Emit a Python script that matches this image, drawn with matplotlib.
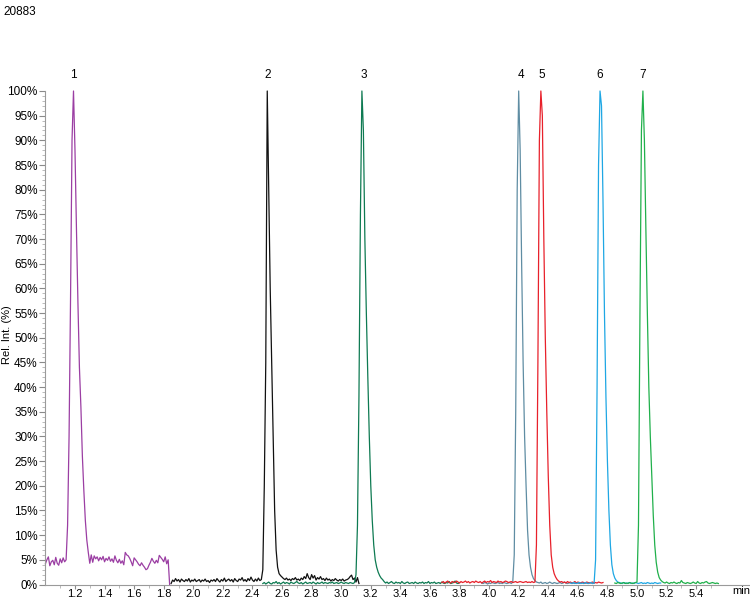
import numpy as np
import matplotlib
matplotlib.use("Agg")
import matplotlib.pyplot as plt
from matplotlib.ticker import MultipleLocator, FixedLocator, FuncFormatter

plt.rcParams['font.family'] = ['Liberation Sans', 'DejaVu Sans']

# ---------------- data ----------------
title_text = "20883"
peak_labels = ["1", "2", "3", "4", "5", "6", "7"]
peak_times = [1.19, 2.505, 3.155, 4.215, 4.355, 4.75, 5.04]
trace_colors = ["#9b3ea3", "#111111", "#0e7a52", "#5f8da3", "#e8212b", "#1ea7e4", "#20b04b"]
x_major_ticks = [1.2, 1.4, 1.6, 1.8, 2.0, 2.2, 2.4, 2.6, 2.8, 3.0, 3.2, 3.4, 3.6,
                 3.8, 4.0, 4.2, 4.4, 4.6, 4.8, 5.0, 5.2, 5.4]

# each trace: start time, sample step (min), intensities (%)
t1_start, t1_step = 1.00, 0.01
y1 = [4.2, 5.0, 5.6, 3.8, 4.6, 4.9, 4.0, 5.5, 4.3, 3.9, 5.2, 4.4, 5.4, 4.6, 5.0,
      12, 30, 58, 90, 100, 88, 72, 57, 44, 36, 26, 19, 13, 9, 6.5, 4.3,
      6.0, 4.5, 5.8, 5.2, 5.6, 4.8, 5.5, 5.0, 5.7, 4.6, 5.3, 4.9, 5.6, 4.7, 5.2,
      4.5, 5.8, 4.9, 4.4, 5.1, 4.3, 4.8, 4.0, 6.5, 6.0, 5.8, 5.3, 4.6, 3.8, 5.4,
      5.0, 4.6, 4.1, 3.8, 4.4, 3.9, 3.5, 3.0, 3.2, 3.9, 4.5, 5.3, 4.7, 4.3, 4.9,
      4.4, 5.9, 5.5, 5.1, 4.6, 5.6, 4.2, 5.0, 0.0]

t2_start, t2_step = 1.85, 0.01
y2 = [0.2, 0.9, 0.6, 1.2, 0.7, 1.0, 0.5, 1.1, 0.8, 0.6, 1.0, 0.7, 1.2, 0.5, 0.9,
      0.7, 1.1, 0.6, 0.8, 1.0, 0.5, 0.9, 0.7, 1.1, 0.6, 0.8, 0.4, 0.9, 0.7, 1.0,
      0.6, 1.2, 0.8, 0.5, 1.0, 0.7, 1.3, 0.6, 0.9, 1.1, 0.7, 1.0, 0.5, 1.2, 0.8,
      0.6, 1.1, 0.9, 1.4, 0.7, 1.0, 0.6, 1.2, 0.8, 1.5, 0.9, 0.6, 1.1, 0.7, 1.3,
      0.8, 1.0,
      3.0, 20, 45, 100, 80, 60, 45, 30, 15, 7, 3.5, 2.2,
      1.8, 1.5, 1.2, 1.0, 1.3, 0.9, 1.1, 0.8, 1.2, 1.0, 1.4, 0.9, 1.1, 0.8, 1.3,
      1.0, 1.6, 1.2, 2.2, 1.4, 1.0, 2.0, 1.3, 1.8, 0.9, 1.4, 1.1, 1.6, 1.0, 1.2,
      0.8, 1.3, 0.9, 1.1, 0.7, 1.0, 0.8, 1.2, 0.9, 0.7, 1.0, 0.8, 1.1, 0.7, 0.9,
      1.0, 1.2, 1.6, 1.9, 1.0, 1.3, 0.5, 1.4, 0.2]

t3_start, t3_step = 2.47, 0.01
y3 = [0.2, 0.4, 0.1, 0.3, 0.5, 0.2, 0.1, 0.4, 0.3, 0.6, 0.2, 0.4, 0.1, 0.3, 0.5,
      0.2, 0.4, 0.3, 0.1, 0.5, 0.3, 0.2, 0.4, 0.6, 0.3, 0.2, 0.4, 0.1, 0.3, 0.5,
      0.2, 0.3, 0.4, 0.2, 0.5, 0.3, 0.1, 0.4, 0.2, 0.3, 0.5, 0.2, 0.4, 0.3, 0.2,
      0.4, 0.3, 0.5, 0.2, 0.3, 0.4, 0.2, 0.3, 0.5, 0.3, 0.2, 0.4, 0.3, 0.2, 0.4,
      0.3, 0.2, 0.4,
      2.0, 12, 38, 75, 100, 92, 70, 55, 42, 30, 20, 13, 8, 5, 3.5, 2.5, 1.8, 1.3,
      1.0, 0.6,
      0.3, 0.5, 0.2, 0.4, 0.6, 0.3, 0.2, 0.5, 0.3, 0.4, 0.2, 0.6, 0.3, 0.2, 0.4,
      0.5, 0.2, 0.3, 0.4, 0.2, 0.5, 0.3, 0.2, 0.4, 0.3, 0.5, 0.2, 0.4, 0.3, 0.6,
      0.2, 0.4, 0.3, 0.5, 0.2, 0.3, 0.4, 0.2, 0.5, 0.3, 0.2, 0.4, 0.3, 0.6, 0.2,
      0.3, 0.4, 0.7, 0.3, 0.2, 0.4]

t4_start, t4_step = 3.95, 0.01
y4 = [0.3, 0.2, 0.4, 0.3, 0.1, 0.3, 0.2, 0.4, 0.3, 0.2, 0.3, 0.4, 0.2, 0.3, 0.2,
      0.4, 0.3, 0.2, 0.3, 0.4, 0.2, 0.5,
      6, 35, 80, 100, 88, 65, 45, 30, 20, 11, 6, 3.5, 2.0, 1.2, 0.8,
      0.5, 0.4, 0.3, 0.5, 0.2, 0.3, 0.4, 0.2, 0.3, 0.5, 0.3, 0.2, 0.4, 0.3, 0.2,
      0.3, 0.4, 0.2, 0.3, 0.5, 0.3, 0.2, 0.3, 0.4, 0.2, 0.3, 0.2, 0.4, 0.3, 0.2,
      0.3, 0.4, 0.2, 0.3, 0.3, 0.2, 0.4, 0.3, 0.2, 0.3]

t5_start, t5_step = 3.68, 0.01
y5 = [0.4, 0.6, 0.3, 0.5, 0.7, 0.4, 0.3, 0.6, 0.5, 0.4, 0.7, 0.5, 0.3, 0.6, 0.4,
      0.5, 0.7, 0.4, 0.6, 0.3, 0.5, 0.6, 0.4, 0.7, 0.5, 0.4, 0.6, 0.3, 0.5, 0.7,
      0.4, 0.6, 0.5, 0.8, 0.4, 0.6, 0.5, 0.4, 0.7, 0.5, 0.6, 0.4, 0.5, 0.7, 0.6,
      0.4, 0.5, 0.6, 0.4, 0.5, 0.6, 0.4, 0.5, 0.6, 0.5, 0.4, 0.5, 0.6, 0.4, 0.5,
      0.4, 0.6, 0.4, 0.5,
      8, 45, 90, 100, 95, 70, 50, 35, 22, 12, 6, 3.5, 2.2, 1.5, 1.0, 0.7, 0.5,
      0.6, 0.4, 0.5, 0.3, 0.6, 0.4, 0.5, 0.3, 0.4, 0.6, 0.3, 0.5, 0.4, 0.3, 0.5,
      0.4, 0.3, 0.5, 0.4, 0.3, 0.4, 0.5, 0.3, 0.4, 0.3, 0.5, 0.4, 0.3, 0.4]

t6_start, t6_step = 4.55, 0.01
y6 = [0.3, 0.2, 0.4, 0.3, 0.2, 0.3, 0.4, 0.2, 0.3, 0.2, 0.4, 0.3, 0.2, 0.3, 0.4,
      0.2, 0.3,
      5, 40, 85, 100, 97, 78, 55, 38, 25, 15, 8, 4, 2.2, 1.3, 0.8,
      0.5, 0.4, 0.3, 0.2, 0.4, 0.3, 0.2, 0.3, 0.4, 0.2, 0.3, 0.2, 0.4, 0.3, 0.2,
      0.3, 0.4, 0.2, 0.3, 0.2, 0.4, 0.3, 0.2, 0.3, 0.2, 0.4, 0.3, 0.2, 0.3, 0.3]

t7_start, t7_step = 4.85, 0.01
y7 = [0.3, 0.2, 0.4, 0.3, 0.2, 0.3, 0.4, 0.2, 0.3, 0.2, 0.4, 0.3, 0.2, 0.3, 0.4,
      0.5,
      12, 55, 92, 100, 90, 72, 55, 40, 30, 22, 14, 8, 4.5, 2.5, 1.4, 0.9,
      0.6, 0.4, 0.3, 0.5, 0.3, 0.2, 0.4, 0.3, 0.5, 0.3, 0.2, 0.4, 0.3, 0.8, 0.4,
      0.3, 0.2, 0.4, 0.3, 0.2, 0.3, 0.5, 0.3, 0.2, 0.6, 0.3, 0.2, 0.4, 0.3, 0.5,
      0.6, 0.3, 0.2, 0.3, 0.4, 0.3, 0.2, 0.3, 0.2]

traces = [(t1_start, t1_step, y1), (t2_start, t2_step, y2), (t3_start, t3_step, y3),
          (t4_start, t4_step, y4), (t5_start, t5_step, y5), (t6_start, t6_step, y6),
          (t7_start, t7_step, y7)]

# ---------------- plot ----------------
FS = 8.5
FSX = 8
fig = plt.figure(figsize=(7.5, 6.0), dpi=100)
ax = fig.add_axes([45.4 / 750, 15.5 / 600, 1 - 45.4 / 750, (584.5 - 91) / 600])

for (t0, dt, ys), col in zip(traces, trace_colors):
    ts = t0 + dt * np.arange(len(ys))
    ax.plot(ts, ys, color=col, lw=0.9, solid_joinstyle="round", clip_on=False)

ax.set_xlim(1.0, 1.0 + 704.6 / 147.9)
ax.set_ylim(0, 100)

for lab, t in zip(peak_labels, peak_times):
    ax.text(t, 102.0, lab, ha="center", va="bottom", fontsize=FS, color="black")

for s in ["top", "right"]:
    ax.spines[s].set_visible(False)
for s in ["left", "bottom"]:
    ax.spines[s].set_color("#9a9a9a")
    ax.spines[s].set_linewidth(0.8)

ax.xaxis.set_major_locator(FixedLocator(x_major_ticks))
ax.xaxis.set_minor_locator(FixedLocator([1.1 + 0.2 * i for i in range(23)]))
ax.yaxis.set_major_locator(MultipleLocator(5))
ax.yaxis.set_minor_locator(MultipleLocator(1))
ax.yaxis.set_major_formatter(FuncFormatter(lambda v, p: f"{int(round(v))}%"))
ax.xaxis.set_major_formatter(FuncFormatter(lambda v, p: f"{v:.1f}"))

ax.tick_params(axis="y", which="major", length=4, width=0.8, color="#8a8a8a",
               labelsize=FS, labelcolor="black", direction="out", pad=1.5)
ax.tick_params(axis="x", which="major", length=3, width=0.8, color="#8a8a8a",
               labelsize=FSX, labelcolor="black", direction="out", pad=0)
ax.tick_params(axis="both", which="minor", length=2.5, width=0.6, color="#b0b0b0",
               direction="out")

fig.text(732 / 750, 1 - 591 / 600, "min", ha="left", va="center", fontsize=FSX)
fig.text(3 / 750, 1 - 12 / 600, title_text, ha="left", va="center", fontsize=FS)
fig.text(7 / 750, 1 - 335 / 600, "Rel. Int. (%)", rotation=90, ha="center",
         va="center", fontsize=8)

fig.savefig("out.png", dpi=100)
